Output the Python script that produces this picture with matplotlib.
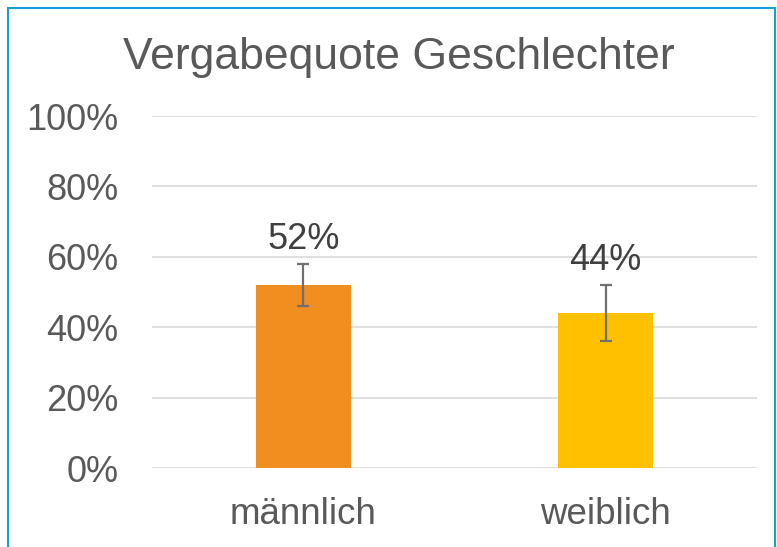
import matplotlib
matplotlib.use("Agg")
import matplotlib.pyplot as plt
from matplotlib.patches import Rectangle

# data
categories = ["männlich", "weiblich"]
quote = [52, 44]
err = [6, 8]
bar_colors = ["#F18E20", "#FFC000"]
y_ticks = [0, 20, 40, 60, 80, 100]
y_labels = ["0%", "20%", "40%", "60%", "80%", "100%"]

plt.rcParams["font.family"] = ["Liberation Sans", "DejaVu Sans"]
txt = "#595959"

fig = plt.figure(figsize=(7.77, 5.47), dpi=100)
ax = fig.add_axes([0.1956, 0.1444, 0.7786, 0.6435])

x = range(len(categories))
ax.bar(x, quote, width=0.315, color=bar_colors, zorder=2)
ax.errorbar(x, quote, yerr=err, fmt="none", ecolor="#6f6f6f",
            elinewidth=1.6, capsize=4.5, capthick=1.6, zorder=3)

for i, v in enumerate(quote):
    ax.text(i, v + err[i] + 2, f"{v}%", ha="center", va="bottom",
            fontsize=26, color="#404040")

ax.set_xlim(-0.5, 1.5)
ax.set_ylim(0, 100)
ax.set_yticks(y_ticks)
ax.set_yticklabels(y_labels)
ax.set_xticks(list(x))
ax.set_xticklabels(categories)
ax.tick_params(axis="y", length=0, pad=24, labelsize=26, labelcolor=txt)
ax.tick_params(axis="x", length=0, pad=21, labelsize=26.5, labelcolor=txt)
ax.grid(axis="y", color="#D9D9D9", linewidth=1.2, zorder=0)
for s in ax.spines.values():
    s.set_visible(False)

fig.text(0.513, 0.894, "Vergabequote Geschlechter", ha="center", va="center",
         fontsize=32, color=txt)

# blue frame like the excel chart border
fig.patches.append(Rectangle((7.5 / 777, -0.02), (775 - 7.5) / 777, 1.02 - 7.5 / 547,
                             transform=fig.transFigure, fill=False,
                             edgecolor="#14A0DC", linewidth=1.5))

fig.savefig("out.png", dpi=100)
